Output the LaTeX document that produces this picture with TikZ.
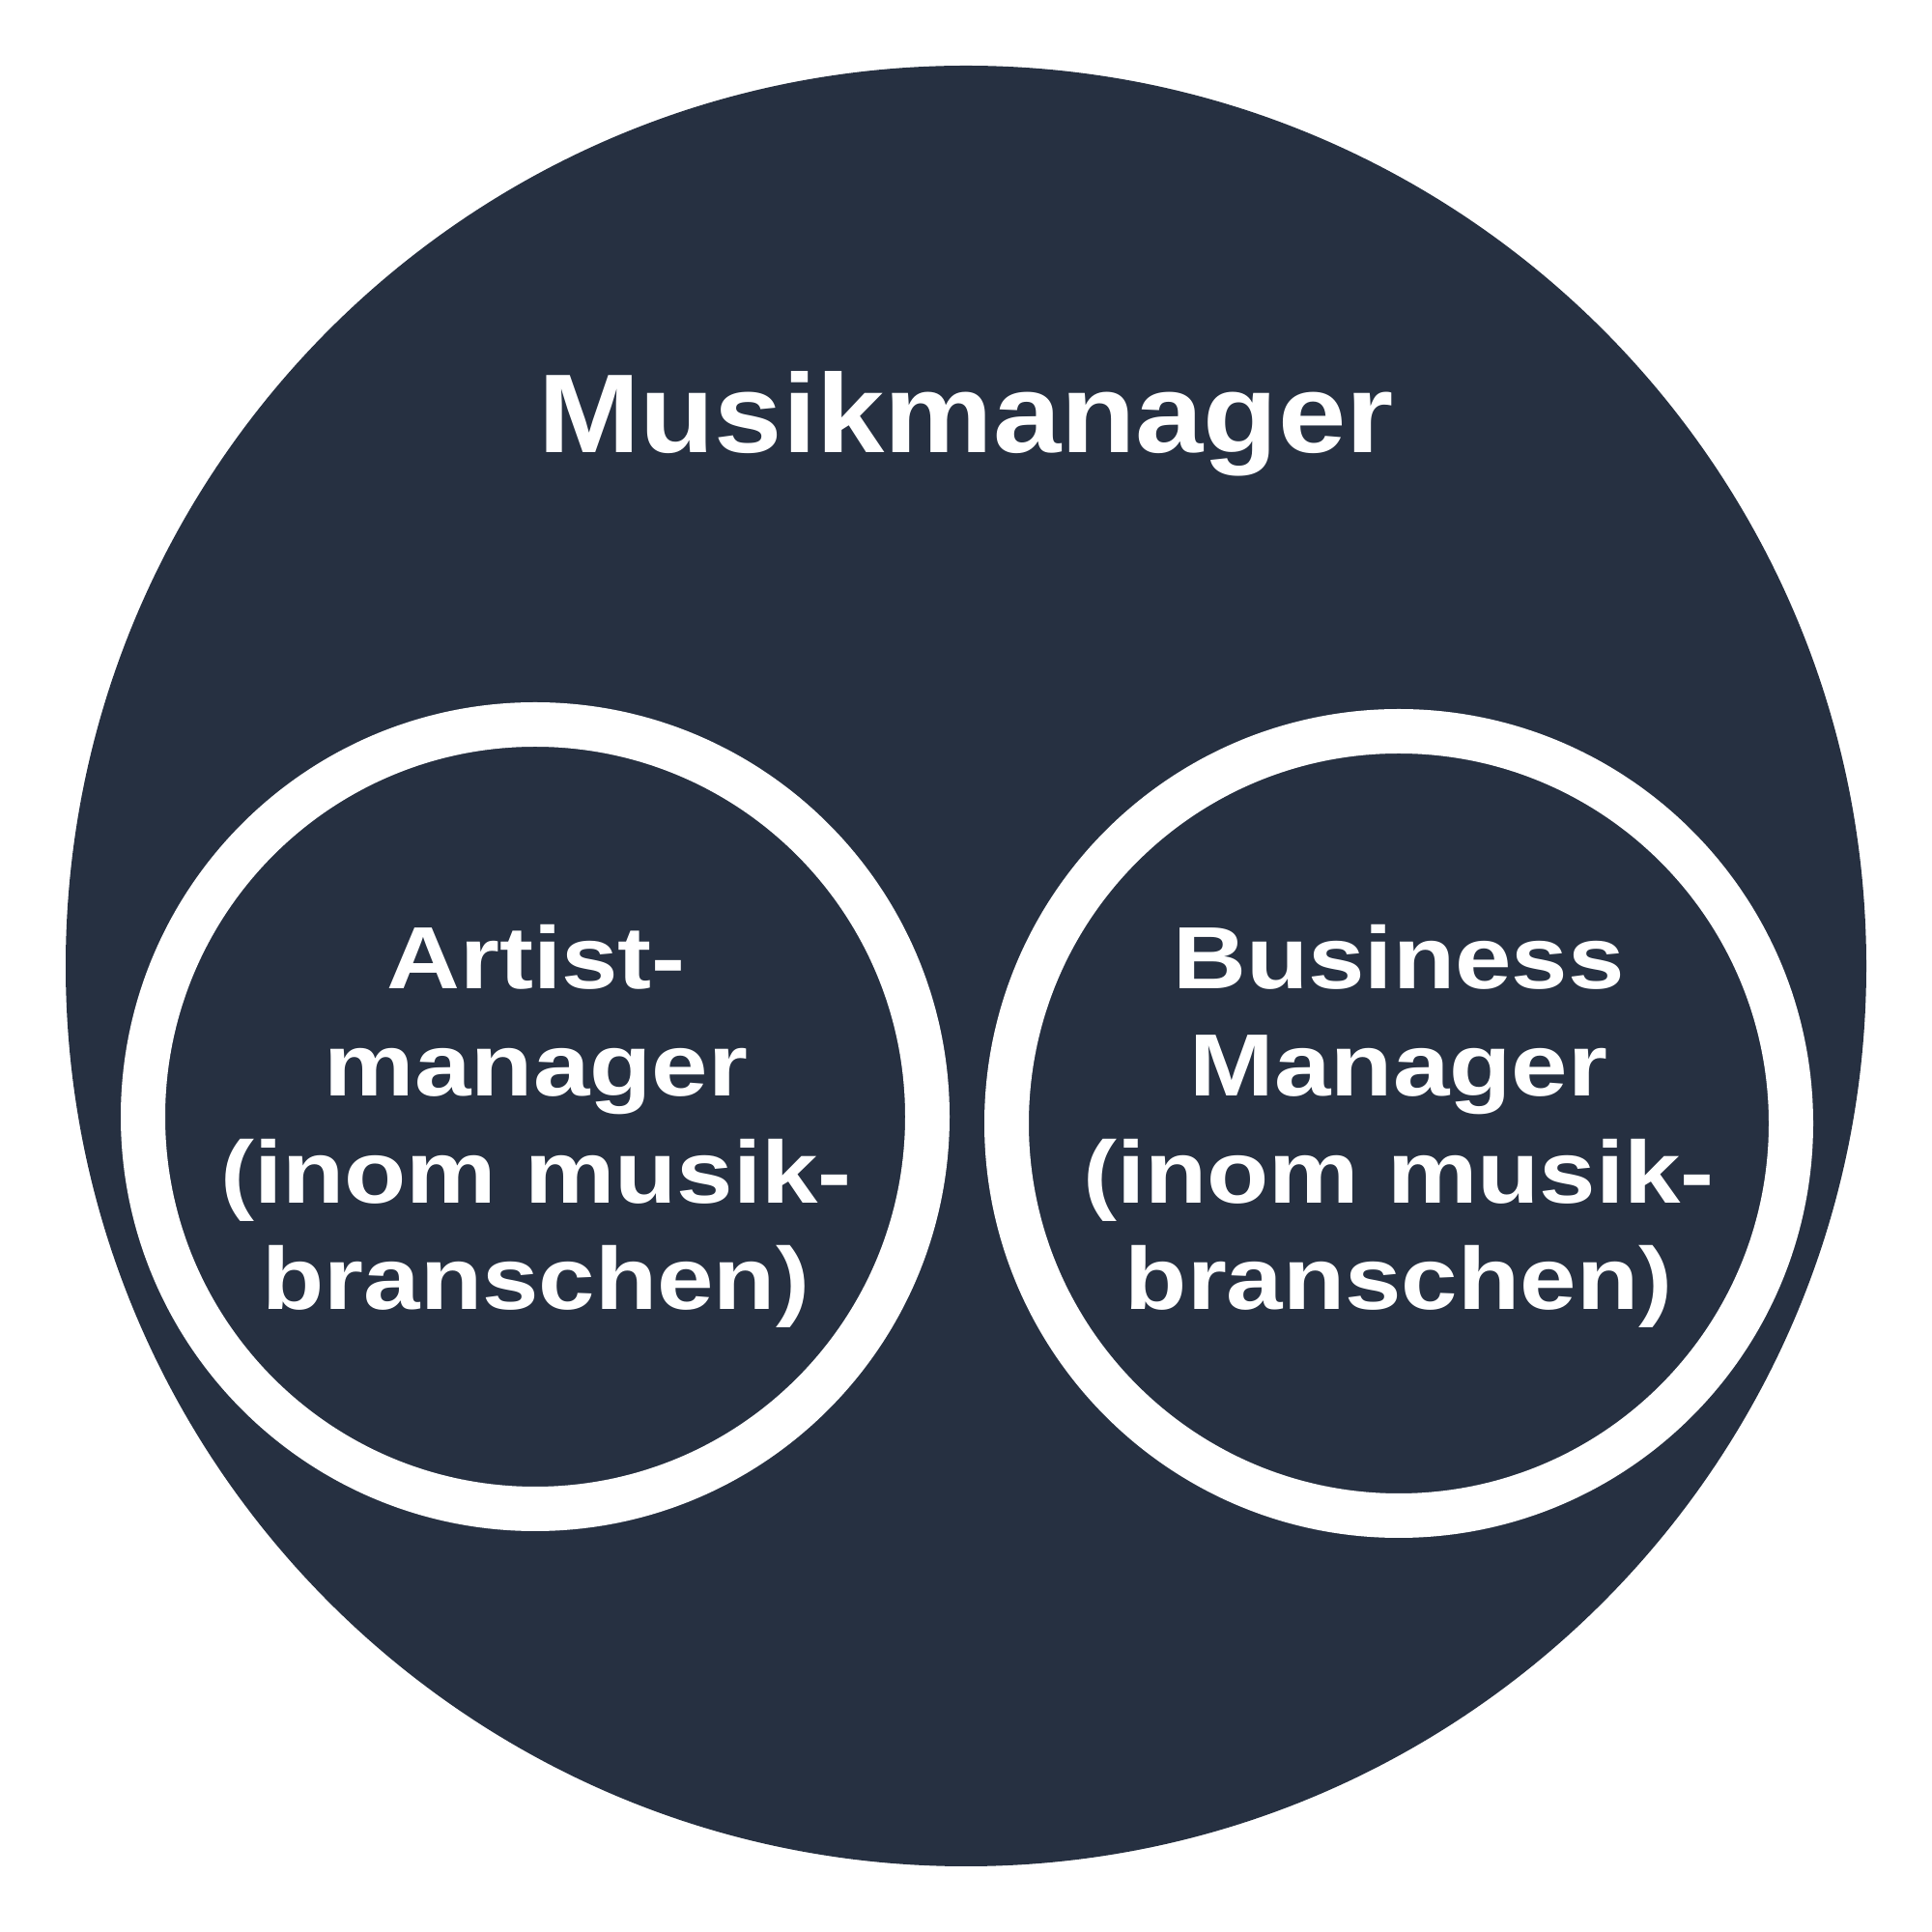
\documentclass[tikz,border=0pt]{standalone}
\usepackage{fontspec}
\setmainfont{Liberation Sans}
\newfontfamily\titlefont[FakeStretch=1.09]{Liberation Sans}
\newfontfamily\ringfont[FakeStretch=1.15]{Liberation Sans}
\usepackage{xcolor}
\usepackage{tikz}
\definecolor{mynavy}{RGB}{38,48,65}

\begin{document}
\begin{tikzpicture}
    \useasboundingbox[fill=white] (0,0) rectangle (20,20);
    % outer circle
    \fill[mynavy] (10,10) circle (9.32);
    % inner rings
    \draw[white, line width=0.46cm] (5.54,8.44) circle (4.06);
    \draw[white, line width=0.46cm] (14.48,8.37) circle (4.06);
    % labels
    \node[white, font=\titlefont\bfseries\fontsize{33}{40}\selectfont, anchor=base, inner sep=0pt] (musik) at (10,15.31) {Musikmanager};
    \node[white, align=center, font=\ringfont\bfseries\fontsize{26}{31.5}\selectfont, anchor=base, inner sep=0pt] (artist) at (5.55,6.44) {
        Artist-\\
        manager\\
        (inom musik-\\
        branschen)
    };
    \node[white, align=center, font=\ringfont\bfseries\fontsize{26}{31.5}\selectfont, anchor=base, inner sep=0pt] (business) at (14.48,6.44) {
        Business\\
        Manager\\
        (inom musik-\\
        branschen)
    };
\end{tikzpicture}
\end{document}
